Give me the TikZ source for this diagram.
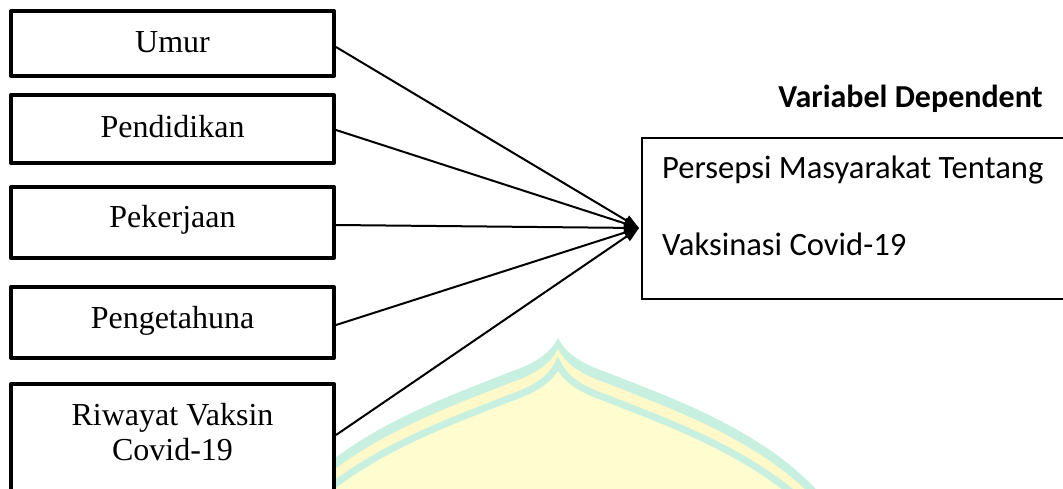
\documentclass[tikz,border=0pt]{standalone}
\usepackage{fontspec}
\setmainfont{Liberation Serif}
\newfontfamily\calfont{Carlito}
\usetikzlibrary{arrows.meta,calc}
\definecolor{wmcyan}{RGB}{200,240,224}
\definecolor{wmyel}{RGB}{255,248,200}
\definecolor{wmfill}{RGB}{255,252,208}
\newcommand\wmarch[1]{\path[#1] (270,530) .. controls (320,440) and (440,400) .. (510,372) .. controls (540,362) and (552,350) .. (558,338) .. controls (564,350) and (576,362) .. (606,372) .. controls (676,400) and (796,440) .. (846,530) -- cycle;}
\begin{document}
\begin{tikzpicture}[x=1pt,y=-1pt,
  lbox/.style={draw=black, line width=4pt, fill=white, minimum width=323pt, inner sep=0pt, line join=round},
  ltext/.style={font=\fontsize{32}{36}\selectfont, anchor=base, inner sep=0pt},
  rtext/.style={font=\calfont\fontsize{32.6}{38}\selectfont, anchor=base west, inner sep=0pt},
  conn/.style={line width=2pt, -{Triangle[length=15pt,width=11pt]}}]
\useasboundingbox (0,0) rectangle (1063,488);
\clip (0,0) rectangle (1063,488);
\fill[white] (0,0) rectangle (1063,488);
% watermark
\wmarch{fill=wmcyan}
\wmarch{fill=wmyel, yshift=-11pt}
\wmarch{draw=wmcyan, line width=7pt, fill=wmfill, yshift=-26pt}
% left boxes
\node[lbox, minimum height=65pt] (umur) at (172.5,43.5) {};
\node[ltext] (tumur) at (172.5,52) {Umur};
\node[lbox, minimum height=68pt] (pend) at (172.5,129) {};
\node[ltext] (tpend) at (172.5,137) {Pendidikan};
\node[lbox, minimum height=71pt] (pek) at (172.5,222.5) {};
\node[ltext] (tpek) at (172.5,227) {Pekerjaan};
\node[lbox, minimum height=71pt] (peng) at (172.5,322.5) {};
\node[ltext] (tpeng) at (172.5,328) {Pengetahuna};
\node[lbox, minimum height=150pt] (riw) at (172.5,459) {};
\node[ltext] (triw1) at (172.5,425) {Riwayat Vaksin};
\node[ltext] (triw2) at (172.5,460) {Covid-19};
% dependent box
\node[font=\calfont\bfseries\fontsize{32}{36}\selectfont, anchor=base east, inner sep=0pt] (title) at (1043,107) {Variabel Dependent};
\node[draw=black, line width=2pt, minimum width=450pt, minimum height=161pt, inner sep=0pt, anchor=north west] (dep) at (641,137) {};
\node[rtext] (t1) at (662,178) {Persepsi Masyarakat Tentang};
\node[rtext] (t2) at (662,255) {Vaksinasi Covid-19};
% connectors
\coordinate (tip) at ($(dep.west)+(-2,9.5)$);
\draw[conn] ($(umur.east)+(0,3.5)$) -- (tip);
\draw[conn] ($(pend.east)+(0,1)$) -- (tip);
\draw[conn] ($(pek.east)+(0,2.5)$) -- (tip);
\draw[conn] ($(peng.east)+(0,2.5)$) -- (tip);
\draw[conn] ($(riw.east)+(0,-24)$) -- (tip);
\end{tikzpicture}
\end{document}
